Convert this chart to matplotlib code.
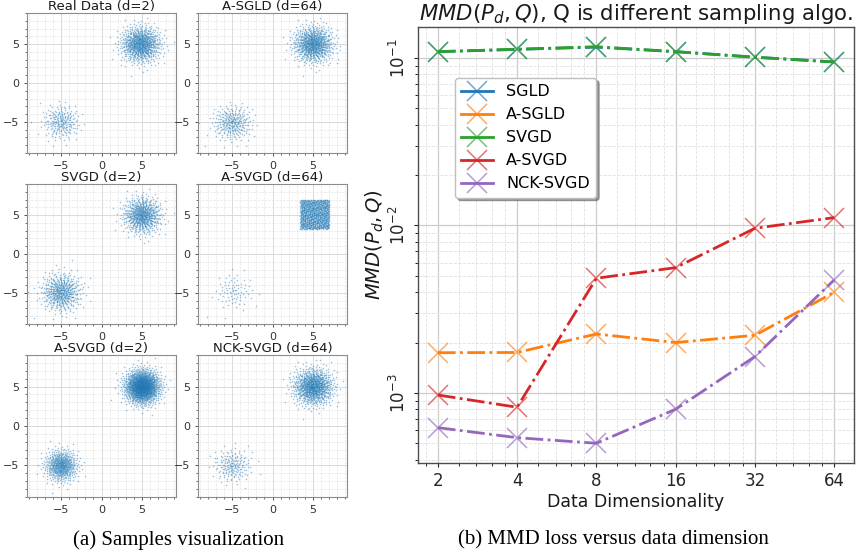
import numpy as np
import matplotlib.pyplot as plt
from matplotlib.ticker import LogLocator, FixedLocator, FixedFormatter, NullFormatter
from matplotlib.colors import to_rgba

# ---- data: MMD vs data dimension ----
dims = [2, 4, 8, 16, 32, 64]
mmd_sgld = [0.109, 0.1125, 0.116, 0.109, 0.101, 0.0946]
mmd_asgld = [1.74e-3, 1.745e-3, 2.25e-3, 2.0e-3, 2.21e-3, 3.99e-3]
mmd_svgd = [0.109, 0.1127, 0.1167, 0.109, 0.101, 0.0946]
mmd_asvgd = [9.73e-4, 8.22e-4, 4.84e-3, 5.6e-3, 9.62e-3, 1.114e-2]
mmd_ncksvgd = [6.21e-4, 5.41e-4, 5.01e-4, 8.0e-4, 1.65e-3, 4.73e-3]
series_names = ['SGLD', 'A-SGLD', 'SVGD', 'A-SVGD', 'NCK-SVGD']
series_colors = ['tab:blue', 'tab:orange', 'tab:green', 'tab:red', 'tab:purple']

# ---- data: sample clouds (two modes per panel) ----
panel_titles = ['Real Data (d=2)', 'A-SGLD (d=64)', 'SVGD (d=2)',
                'A-SVGD (d=64)', 'A-SVGD (d=2)', 'NCK-SVGD (d=64)']
upper_center = [(4.8, 5.0), (5.0, 5.0), (5.0, 5.0), (5.2, 5.1), (5.0, 5.0), (5.0, 5.0)]
upper_spread = [(1.2, 1.15), (1.2, 1.15), (1.15, 1.15), (1.8, 1.9), (1.05, 1.05), (1.2, 1.15)]
upper_count = [800, 800, 650, 900, 1500, 900]
lower_center = [(-5.0, -5.0), (-5.0, -5.1), (-5.0, -4.9), (-4.8, -4.8), (-5.0, -5.0), (-5.0, -5.0)]
lower_spread = [(1.1, 1.1), (1.2, 1.1), (1.2, 1.2), (1.2, 1.2), (1.0, 1.0), (1.15, 1.05)]
lower_count = [220, 280, 500, 80, 550, 180]
cloud_kind = ['gauss', 'gauss', 'gauss', 'box', 'spiral', 'gauss']


def quasi_uniform(n, offset):
    # R2 low-discrepancy sequence in the unit square
    g = 1.32471795724474602596
    k = np.arange(offset, offset + n)
    u1 = (0.5 + k / g) % 1.0
    u2 = (0.5 + k / g ** 2) % 1.0
    return u1, u2


def cloud(center, spread, n, kind, offset):
    cx, cy = center
    sx, sy = spread
    if kind == 'spiral':
        i = np.arange(n)
        r = np.sqrt(-2 * np.log(1 - (i + 0.5) / n))
        th = i * np.pi * (3 - np.sqrt(5))
        return cx + sx * r * np.cos(th), cy + sy * r * np.sin(th)
    u1, u2 = quasi_uniform(n, offset)
    if kind == 'box':
        return cx + sx * (u1 - 0.5) * 2, cy + sy * (u2 - 0.5) * 2
    u1 = np.clip(u1, 1e-4, 1)
    r = np.sqrt(-2 * np.log(u1))
    return cx + sx * r * np.cos(2 * np.pi * u2), cy + sy * r * np.sin(2 * np.pi * u2)


fig = plt.figure(figsize=(8.6, 5.56), dpi=100)


def px_axes(l, t, r, b):
    return fig.add_axes([l / 860, 1 - b / 556, (r - l) / 860, (b - t) / 556])


cols = [(27, 176), (198, 347)]
rows = [(13, 153), (184, 324), (355, 497)]

for idx, title in enumerate(panel_titles):
    (l, r) = cols[idx % 2]
    (t, b) = rows[idx // 2]
    ax = px_axes(l, t, r, b)
    upper_kind = cloud_kind[idx]
    lower_kind = 'spiral' if upper_kind == 'spiral' else 'gauss'
    ux, uy = cloud(upper_center[idx], upper_spread[idx], upper_count[idx], upper_kind, 37 * idx)
    lx, ly = cloud(lower_center[idx], lower_spread[idx], lower_count[idx], lower_kind, 5000 + 53 * idx)
    ax.scatter(np.r_[ux, lx], np.r_[uy, ly], s=1.3, color='tab:blue', alpha=0.45, linewidths=0)
    ax.set_xlim(-9.2, 9.2)
    ax.set_ylim(-9.0, 9.0)
    ax.set_xticks([-5, 0, 5])
    ax.set_yticks([-5, 0, 5])
    ax.xaxis.set_minor_locator(FixedLocator(np.arange(-9, 10, 1)))
    ax.yaxis.set_minor_locator(FixedLocator(np.arange(-9, 10, 1)))
    ax.grid(True, which='major', color='0.85', lw=0.7)
    ax.grid(True, which='minor', color='0.9', lw=0.5, ls='--')
    ax.tick_params(labelsize=8, colors='0.2', length=2, width=0.6)
    ax.tick_params(which='minor', length=1.2, width=0.4)
    for s in ax.spines.values():
        s.set_color('0.55')
        s.set_linewidth(0.8)
    ax.set_axisbelow(True)
    ax.set_title(title, fontsize=9.5, color='0.1', pad=1.0)

# ---- right panel ----
ax = px_axes(418, 27, 854, 463)
all_series = [mmd_sgld, mmd_asgld, mmd_svgd, mmd_asvgd, mmd_ncksvgd]
for name, vals, c in zip(series_names, all_series, series_colors):
    ax.plot(dims, vals, ls='-.', lw=2, color=c, marker='x', markersize=14,
            markeredgewidth=1.1, markeredgecolor=to_rgba(c, 0.65), label=name)

ax.set_xscale('log', base=2)
ax.set_yscale('log')
ax.set_ylim(3.82e-4, 0.153)
ax.xaxis.set_major_locator(FixedLocator(dims))
ax.xaxis.set_major_formatter(FixedFormatter([str(d) for d in dims]))
ax.xaxis.set_minor_locator(LogLocator(base=2, subs=[1.2, 1.4, 1.6, 1.8]))
ax.xaxis.set_minor_formatter(NullFormatter())
ax.grid(True, which='major', color='0.8', lw=0.9)
ax.grid(True, which='minor', color='0.88', lw=0.6, ls='--')
ax.tick_params(labelsize=12, colors='0.15', length=3, width=0.8)
ax.tick_params(which='minor', length=2, width=0.6)
plt.setp(ax.get_yticklabels(), rotation=90, va='center')
for s in ax.spines.values():
    s.set_color('0.3')
    s.set_linewidth(1.0)
ax.set_axisbelow(True)
ax.set_title('$MMD(P_d, Q)$, Q is different sampling algo.', fontsize=15.3, color='0.1', pad=5)
ax.set_xlabel('Data Dimensionality', fontsize=12.5, color='0.1', labelpad=2)
ax.set_ylabel('$MMD(P_d, Q)$', fontsize=14, color='0.1', labelpad=2)
leg = ax.legend(loc='upper left', bbox_to_anchor=(0.085, 0.883), borderaxespad=0,
                fontsize=11.5, shadow=True, fancybox=True, framealpha=1,
                edgecolor='0.75', handlelength=2.0)
for h in leg.get_lines():
    h.set_linestyle('-')

fig.text(179 / 860, 1 - 540 / 556, '(a) Samples visualization', family='Liberation Serif',
         fontsize=15, ha='center', va='center')
fig.text(613 / 860, 1 - 540 / 556, '(b) MMD loss versus data dimension', family='Liberation Serif',
         fontsize=15, ha='center', va='center')

fig.savefig('out.png', dpi=100)
